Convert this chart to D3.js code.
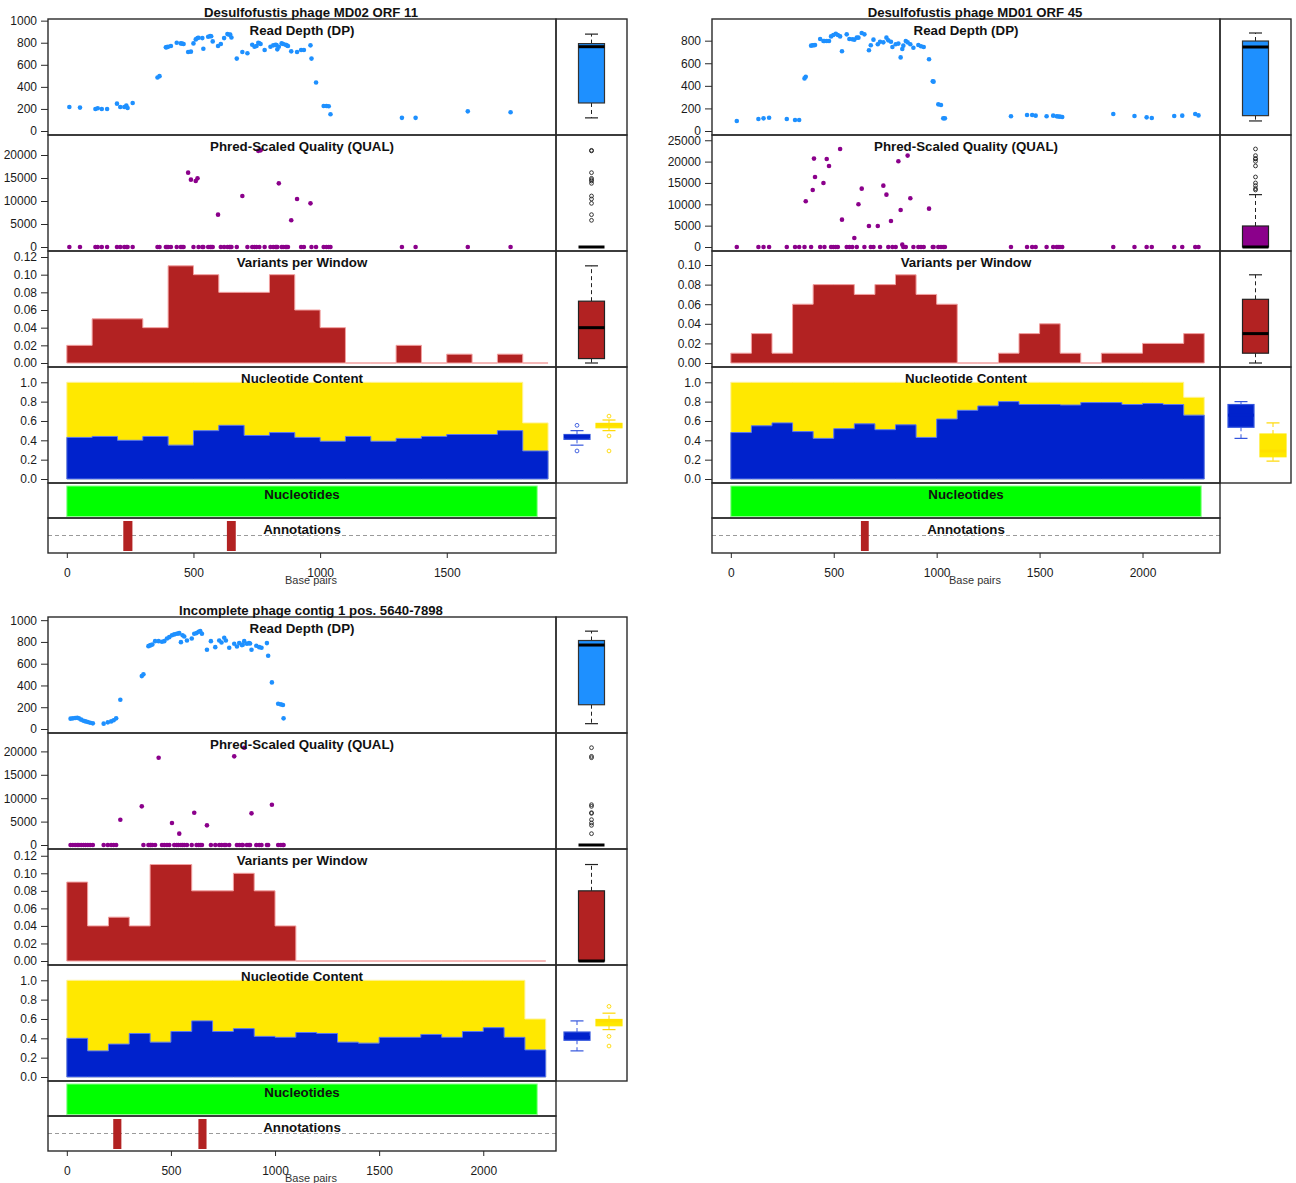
<!DOCTYPE html>
<html>
<head>
<meta charset="utf-8">
<script src="https://cdn.jsdelivr.net/npm/d3@7"></script>
<style>
  body { margin: 0; background: #fff; }
  svg { display: block; font-family: 'Liberation Sans', Arial, Helvetica, sans-serif; }
</style>
</head>
<body>
<svg id="chart" width="1296" height="1183"></svg>
<script>
// Desulfofustis phage MD02 ORF 11;
const tlLength = 1857;
const tlPos = [10, 52, 113, 122, 138, 159, 198, 211, 227, 235,
    240, 260, 358, 366, 391, 395, 400, 411, 434, 450,
    455, 461, 479, 490, 500, 509, 516, 520, 535, 539,
    558, 566, 570, 576, 597, 608, 621, 634, 642, 645,
    650, 671, 693, 713, 732, 741, 749, 756, 760, 765,
    781, 804, 815, 824, 828, 831, 837, 848, 854, 864,
    868, 873, 886, 909, 925, 936, 962, 966, 984, 1014,
    1025, 1034, 1041, 1323, 1377, 1583, 1752];
const tlDp = [218, 212, 200, 206, 200, 200, 248, 218, 218, 230,
    209, 254, 485, 497, 758, 760, 764, 770, 800, 794,
    792, 788, 716, 719, 794, 830, 842, 845, 842, 746,
    854, 860, 858, 812, 770, 788, 842, 878, 872, 875,
    848, 656, 716, 704, 782, 764, 770, 800, 795, 788,
    734, 764, 776, 782, 778, 740, 764, 794, 788, 782,
    776, 770, 722, 716, 734, 734, 776, 656, 440, 227,
    227, 224, 152, 119, 119, 178, 170];
const tlQual = [0, 0, 0, 0, 0, 0, 0, 0, 0, 0,
    0, 0, 0, 0, 0, 0, 0, 0, 0, 0,
    0, 0, 16160, 14640, 0, 14350, 14930, 0, 0, 0,
    0, 0, 0, 0, 7030, 0, 0, 0, 0, 0,
    0, 0, 11090, 0, 0, 0, 0, 20900, 0, 21010,
    0, 0, 0, 0, 0, 0, 13840, 0, 0, 0,
    0, 0, 5800, 10430, 0, 0, 9490, 0, 0, 0,
    0, 0, 0, 0, 0, 0, 0];
const tlVariants = [0.02, 0.05, 0.05, 0.04, 0.11, 0.10, 0.08, 0.08, 0.10, 0.06,
    0.04, 0, 0, 0.02, 0, 0.01, 0, 0.01, 0];
const tlGc = [0.43, 0.44, 0.40, 0.44, 0.35, 0.50, 0.555, 0.45, 0.48, 0.43,
    0.39, 0.44, 0.39, 0.42, 0.44, 0.46, 0.46, 0.50, 0.29];
const tlAt = [0.57, 0.56, 0.60, 0.56, 0.65, 0.50, 0.445, 0.55, 0.52, 0.57,
    0.61, 0.56, 0.61, 0.58, 0.56, 0.54, 0.54, 0.50, 0.29];
const tlAnnotations = [[223, 259], [632, 667]];
const tlYMax = [1015, 24350, 0.1268, 1.158];
const tlYTicks = [[0, 200, 400, 600, 800, 1000], [0, 5000, 10000, 15000, 20000],
    [0, 0.02, 0.04, 0.06, 0.08, 0.10, 0.12], [0, 0.2, 0.4, 0.6, 0.8, 1.0]];
const tlXTicks = [0, 500, 1000, 1500];

// Desulfofustis phage MD01 ORF 45;
const trLength = 2285;
const trPos = [29, 134, 159, 186, 272, 312, 332, 358, 364, 390,
    398, 404, 409, 434, 450, 455, 466, 477, 487, 498,
    510, 520, 531, 540, 563, 576, 590, 600, 612, 620,
    636, 649, 671, 680, 693, 714, 725, 741, 756, 765,
    778, 785, 801, 814, 825, 833, 838, 850, 859, 872,
    887, 911, 924, 937, 963, 981, 985, 1008, 1021, 1032,
    1040, 1361, 1439, 1464, 1481, 1534, 1566, 1583, 1590, 1599,
    1610, 1858, 1961, 2020, 2045, 2154, 2193, 2256, 2272];
const trDp = [89, 106, 112, 118, 106, 97, 97, 466, 481, 756,
    759, 760, 762, 815, 797, 797, 797, 797, 838, 850,
    862, 850, 838, 706, 856, 815, 812, 809, 827, 827,
    868, 856, 715, 760, 809, 768, 791, 785, 827, 803,
    791, 744, 768, 774, 652, 726, 756, 797, 785, 768,
    738, 762, 750, 744, 635, 440, 437, 236, 230, 112,
    112, 130, 142, 142, 136, 130, 136, 130, 128, 127,
    124, 150, 133, 121, 115, 133, 136, 150, 138];
const trQual = [0, 0, 0, 0, 0, 0, 0, 0, 10700, 0,
    13355, 20700, 16400, 0, 15000, 0, 20620, 18980, 0, 0,
    0, 0, 22960, 6400, 0, 0, 0, 2100, 0, 10000,
    13670, 0, 4920, 0, 0, 4920, 0, 14370, 12260, 0,
    6090, 0, 0, 20070, 8670, 550, 0, 0, 21400, 11400,
    0, 0, 0, 0, 8980, 0, 0, 0, 0, 0,
    0, 0, 0, 0, 0, 0, 0, 0, 0, 0,
    0, 0, 0, 0, 0, 0, 0, 0, 0];
const trVariants = [0.01, 0.03, 0.01, 0.06, 0.08, 0.08, 0.07, 0.08, 0.09, 0.07,
    0.06, 0, 0, 0.01, 0.03, 0.04, 0.01, 0, 0.01, 0.01,
    0.02, 0.02, 0.03];
const trGc = [0.48, 0.55, 0.58, 0.49, 0.42, 0.52, 0.57, 0.51, 0.56, 0.43,
    0.62, 0.71, 0.755, 0.80, 0.77, 0.77, 0.765, 0.79, 0.79, 0.77,
    0.78, 0.77, 0.66];
const trAt = [0.52, 0.45, 0.42, 0.51, 0.58, 0.48, 0.43, 0.49, 0.44, 0.57,
    0.38, 0.29, 0.245, 0.20, 0.23, 0.23, 0.235, 0.21, 0.21, 0.23,
    0.22, 0.23, 0.185];
const trAnnotations = [[632, 670]];
const trYMax = [992, 26230, 0.1143, 1.158];
const trYTicks = [[0, 200, 400, 600, 800], [0, 5000, 10000, 15000, 20000, 25000],
    [0, 0.02, 0.04, 0.06, 0.08, 0.10], [0, 0.2, 0.4, 0.6, 0.8, 1.0]];
const trXTicks = [0, 500, 1000, 1500, 2000];

// Incomplete phage contig 1 pos. 5640-7898;
const blLength = 2259;
const blPos = [18, 29, 40, 50, 58, 69, 80, 90, 101, 112,
    125, 177, 197, 213, 225, 237, 257, 360, 368, 392,
    400, 404, 411, 424, 441, 457, 468, 481, 492, 505,
    516, 528, 536, 540, 548, 556, 564, 577, 600, 612,
    623, 633, 641, 649, 673, 692, 713, 732, 743, 756,
    764, 780, 804, 817, 828, 841, 845, 852, 865, 875,
    880, 887, 910, 924, 935, 961, 967, 985, 1015, 1028,
    1038, 1041];
const blDp = [95, 98, 101, 104, 98, 86, 76, 70, 64, 58,
    52, 49, 61, 70, 80, 98, 269, 486, 502, 761,
    768, 772, 777, 807, 807, 801, 807, 832, 844, 862,
    869, 875, 878, 881, 798, 862, 850, 813, 832, 875,
    881, 893, 899, 875, 728, 807, 752, 813, 795, 838,
    813, 746, 783, 758, 789, 771, 775, 807, 783, 789,
    786, 728, 765, 752, 746, 789, 673, 428, 232, 226,
    220, 98];
const blQual = [0, 0, 0, 0, 0, 0, 0, 0, 0, 0,
    0, 0, 0, 0, 0, 0, 5410, 8260, 0, 0,
    0, 0, 0, 0, 18650, 0, 0, 0, 0, 4700,
    0, 0, 0, 2420, 0, 0, 0, 0, 0, 6900,
    0, 0, 0, 0, 4200, 0, 0, 0, 0, 0,
    0, 0, 18940, 0, 0, 0, 0, 20790, 0, 0,
    0, 6760, 0, 0, 0, 0, 0, 8610, 0, 0,
    0, 0];
const blVariants = [0.09, 0.04, 0.05, 0.04, 0.11, 0.11, 0.08, 0.08, 0.10, 0.08,
    0.04, 0, 0, 0, 0, 0, 0, 0, 0, 0,
    0, 0, 0];
const blGc = [0.40, 0.27, 0.34, 0.45, 0.36, 0.47, 0.58, 0.47, 0.50, 0.42,
    0.41, 0.46, 0.45, 0.36, 0.35, 0.41, 0.41, 0.44, 0.41, 0.47,
    0.51, 0.41, 0.28];
const blAt = [0.60, 0.73, 0.66, 0.55, 0.64, 0.53, 0.42, 0.53, 0.50, 0.58,
    0.59, 0.54, 0.55, 0.64, 0.65, 0.59, 0.59, 0.56, 0.59, 0.53,
    0.49, 0.59, 0.32];
const blAnnotations = [[223, 262], [632, 671]];
const blYMax = [1029, 23930, 0.1277, 1.158];
const blYTicks = [[0, 200, 400, 600, 800, 1000], [0, 5000, 10000, 15000, 20000],
    [0, 0.02, 0.04, 0.06, 0.08, 0.10, 0.12], [0, 0.2, 0.4, 0.6, 0.8, 1.0]];
const blXTicks = [0, 500, 1000, 1500, 2000];

const rowTitles = ['Read Depth (DP)', 'Phred-Scaled Quality (QUAL)', 'Variants per Window',
    'Nucleotide Content', 'Nucleotides', 'Annotations'];
const WINDOW = 100;

const panels = [
    { title: 'Desulfofustis phage MD02 ORF 11', ox: 0, oy: 0, length: tlLength,
      pos: tlPos, dp: tlDp, qual: tlQual, variants: tlVariants, gc: tlGc, at: tlAt,
      annotations: tlAnnotations, yMax: tlYMax, yTicks: tlYTicks, xTicks: tlXTicks },
    { title: 'Desulfofustis phage MD01 ORF 45', ox: 664, oy: 0, length: trLength,
      pos: trPos, dp: trDp, qual: trQual, variants: trVariants, gc: trGc, at: trAt,
      annotations: trAnnotations, yMax: trYMax, yTicks: trYTicks, xTicks: trXTicks },
    { title: 'Incomplete phage contig 1 pos. 5640-7898', ox: 0, oy: 598, length: blLength,
      pos: blPos, dp: blDp, qual: blQual, variants: blVariants, gc: blGc, at: blAt,
      annotations: blAnnotations, yMax: blYMax, yTicks: blYTicks, xTicks: blXTicks }
];

// Layout;
const MAIN_L = 48, MAIN_R = 556, SIDE_R = 627;
const ROW_EDGES = [19, 135, 251, 367, 483, 518, 553];
const FRAME = '#2a2a2a';

const COLORS = {
    dp: '#1E90FF', qual: '#8B008B', variants: '#B22222',
    gc: '#0022CC', at: '#FFE800', nucleotides: '#00FF00'
};

// R-style five number summary (Tukey hinges);
function fivenum(values) {
    const x = values.slice().sort(d3.ascending);
    const n = x.length;
    const n4 = Math.floor((n + 3) / 2) / 2;
    const d = [1, n4, (n + 1) / 2, n + 1 - n4, n];
    return d.map((k) => 0.5 * (x[Math.floor(k) - 1] + x[Math.ceil(k) - 1]));
}

function boxStats(values) {
    const [, q1, med, q3] = fivenum(values);
    const iqr = q3 - q1;
    const lo = q1 - 1.5 * iqr;
    const hi = q3 + 1.5 * iqr;
    const inside = values.filter((v) => v >= lo && v <= hi);
    return {
        q1, med, q3,
        wlo: d3.min(inside), whi: d3.max(inside),
        out: values.filter((v) => v < lo || v > hi)
    };
}

function drawBox(g, values, cx, y, style) {
    const s = boxStats(values);
    const hw = 13, cw = 6.5;
    const b = g.append('g');
    // Whiskers;
    b.append('line').attr('x1', cx).attr('x2', cx).attr('y1', y(s.q3)).attr('y2', y(s.whi))
        .attr('stroke', style.whisker).attr('stroke-dasharray', '4,3');
    b.append('line').attr('x1', cx).attr('x2', cx).attr('y1', y(s.q1)).attr('y2', y(s.wlo))
        .attr('stroke', style.whisker).attr('stroke-dasharray', '4,3');
    [s.whi, s.wlo].forEach((v) => {
        b.append('line').attr('x1', cx - cw).attr('x2', cx + cw).attr('y1', y(v)).attr('y2', y(v))
            .attr('stroke', style.whisker).attr('stroke-width', 1.2);
    });
    // Box;
    b.append('rect')
        .attr('x', cx - hw).attr('width', hw * 2)
        .attr('y', y(s.q3)).attr('height', Math.max(0, y(s.q1) - y(s.q3)))
        .attr('fill', style.fill).attr('stroke', style.border).attr('stroke-width', 1.2);
    b.append('line').attr('x1', cx - hw).attr('x2', cx + hw).attr('y1', y(s.med)).attr('y2', y(s.med))
        .attr('stroke', style.median).attr('stroke-width', 3);
    // Outliers;
    b.selectAll('circle.out').data(s.out).enter().append('circle')
        .attr('class', 'out')
        .attr('cx', cx).attr('cy', (d) => y(d)).attr('r', 1.9)
        .attr('fill', 'none').attr('stroke', style.outlier).attr('stroke-width', 0.9);
}

function stepPoints(values) {
    const pts = values.map((v, i) => [i * WINDOW, v]);
    pts.push([values.length * WINDOW, values[values.length - 1]]);
    return pts;
}

function drawPanel(svg, p) {
    const g = svg.append('g').attr('transform', `translate(${p.ox},${p.oy})`);
    const x = d3.scaleLinear()
        .domain([-0.04 * p.length, 1.04 * p.length])
        .range([MAIN_L, MAIN_R]);
    const ys = [0, 1, 2, 3].map((i) => d3.scaleLinear()
        .domain([0, p.yMax[i]])
        .range([ROW_EDGES[i + 1] - 4, ROW_EDGES[i]]));
    const sideC = (MAIN_R + SIDE_R) / 2;

    // Read depth;
    g.append('g').selectAll('circle').data(p.pos).enter().append('circle')
        .attr('cx', (d) => x(d)).attr('cy', (d, i) => ys[0](p.dp[i])).attr('r', 2.3)
        .attr('fill', COLORS.dp);

    // Quality;
    g.append('g').selectAll('circle').data(p.pos).enter().append('circle')
        .attr('cx', (d) => x(d)).attr('cy', (d, i) => ys[1](p.qual[i])).attr('r', 2.3)
        .attr('fill', COLORS.qual);

    // Variants per window;
    const area2 = d3.area().curve(d3.curveStepAfter)
        .x((d) => x(d[0])).y0(ys[2](0)).y1((d) => ys[2](d[1]));
    g.append('path').datum(stepPoints(p.variants)).attr('d', area2)
        .attr('fill', COLORS.variants).attr('stroke', '#F2A0A0').attr('stroke-width', 1);

    // Nucleotide content (stacked);
    const area3 = d3.area().curve(d3.curveStepAfter)
        .x((d) => x(d[0])).y0(ys[3](0)).y1((d) => ys[3](d[1]));
    const total = p.gc.map((v, i) => v + p.at[i]);
    g.append('path').datum(stepPoints(total)).attr('d', area3)
        .attr('fill', COLORS.at).attr('stroke', '#FFF29A').attr('stroke-width', 1);
    g.append('path').datum(stepPoints(p.gc)).attr('d', area3)
        .attr('fill', COLORS.gc).attr('stroke', '#5A78F0').attr('stroke-width', 1);

    // Nucleotides bar;
    g.append('rect')
        .attr('x', x(0)).attr('width', x(p.length) - x(0))
        .attr('y', ROW_EDGES[4] + 3).attr('height', ROW_EDGES[5] - ROW_EDGES[4] - 4.5)
        .attr('fill', COLORS.nucleotides).attr('stroke', '#8CFF8C').attr('stroke-width', 1);

    // Annotations;
    const aMid = (ROW_EDGES[5] + ROW_EDGES[6]) / 2;
    g.append('line').attr('x1', MAIN_L).attr('x2', MAIN_R).attr('y1', aMid).attr('y2', aMid)
        .attr('stroke', '#9a9a9a').attr('stroke-dasharray', '4,3').attr('stroke-width', 1);
    g.append('g').selectAll('rect').data(p.annotations).enter().append('rect')
        .attr('x', (d) => x(d[0])).attr('width', (d) => x(d[1]) - x(d[0]))
        .attr('y', ROW_EDGES[5] + 3).attr('height', ROW_EDGES[6] - ROW_EDGES[5] - 5)
        .attr('fill', COLORS.variants);

    // Side box plots;
    const side = g.append('g');
    drawBox(side, p.dp, sideC, ys[0], { fill: COLORS.dp, border: '#333', median: '#000', whisker: '#222', outlier: '#222' });
    drawBox(side, p.qual, sideC, ys[1], { fill: COLORS.qual, border: '#222', median: '#000', whisker: '#222', outlier: '#222' });
    drawBox(side, p.variants, sideC, ys[2], { fill: COLORS.variants, border: '#222', median: '#000', whisker: '#222', outlier: '#222' });
    drawBox(side, p.gc, MAIN_R + 21, ys[3], { fill: COLORS.gc, border: '#3355DD', median: '#0022CC', whisker: '#3355DD', outlier: '#3355DD' });
    drawBox(side, p.at, MAIN_R + 53, ys[3], { fill: COLORS.at, border: '#FFE800', median: '#FFE000', whisker: '#FFD800', outlier: '#FFD800' });

    // Frames;
    const frames = g.append('g').attr('fill', 'none').attr('stroke', FRAME).attr('stroke-width', 1.4);
    for (let i = 0; i < 6; i++) {
        frames.append('rect').attr('x', MAIN_L).attr('y', ROW_EDGES[i])
            .attr('width', MAIN_R - MAIN_L).attr('height', ROW_EDGES[i + 1] - ROW_EDGES[i]);
    }
    for (let i = 0; i < 4; i++) {
        frames.append('rect').attr('x', MAIN_R).attr('y', ROW_EDGES[i])
            .attr('width', SIDE_R - MAIN_R).attr('height', ROW_EDGES[i + 1] - ROW_EDGES[i]);
    }

    // Y axes;
    const fmts = [d3.format('d'), d3.format('d'), d3.format('.2f'), d3.format('.1f')];
    ys.forEach((y, i) => {
        const ax = g.append('g').attr('transform', `translate(${MAIN_L},0)`)
            .call(d3.axisLeft(y).tickValues(p.yTicks[i]).tickFormat(fmts[i]).tickSize(7).tickPadding(4));
        ax.select('.domain').remove();
        ax.selectAll('line').attr('stroke', FRAME);
        ax.selectAll('text').attr('font-size', 12).attr('fill', '#1a1a1a').attr('font-family', null);
    });

    // X axis;
    const xa = g.append('g').attr('transform', `translate(0,${ROW_EDGES[6]})`)
        .call(d3.axisBottom(x).tickValues(p.xTicks).tickFormat(d3.format('d')).tickSize(5).tickPadding(10));
    xa.select('.domain').remove();
    xa.selectAll('line').attr('stroke', FRAME);
    xa.selectAll('text').attr('font-size', 12).attr('fill', '#1a1a1a').attr('font-family', null);

    const mainC = (MAIN_L + MAIN_R) / 2;
    g.append('text').attr('x', mainC + 9).attr('y', ROW_EDGES[6] + 31)
        .attr('text-anchor', 'middle').attr('font-size', 11).attr('fill', '#333')
        .text('Base pairs');

    // Titles;
    g.append('text').attr('x', mainC + 9).attr('y', 16.5)
        .attr('text-anchor', 'middle').attr('font-size', 13.2).attr('font-weight', 'bold')
        .attr('fill', '#111').text(p.title);
    rowTitles.forEach((t, i) => {
        g.append('text').attr('x', mainC).attr('y', ROW_EDGES[i] + 15.5)
            .attr('text-anchor', 'middle').attr('font-size', 13.3).attr('font-weight', 'bold')
            .attr('fill', '#111').text(t);
    });
}

const svg = d3.select('#chart');
svg.append('rect').attr('width', 1296).attr('height', 1183).attr('fill', '#fff');
panels.forEach((p) => drawPanel(svg, p));
</script>
</body>
</html>
